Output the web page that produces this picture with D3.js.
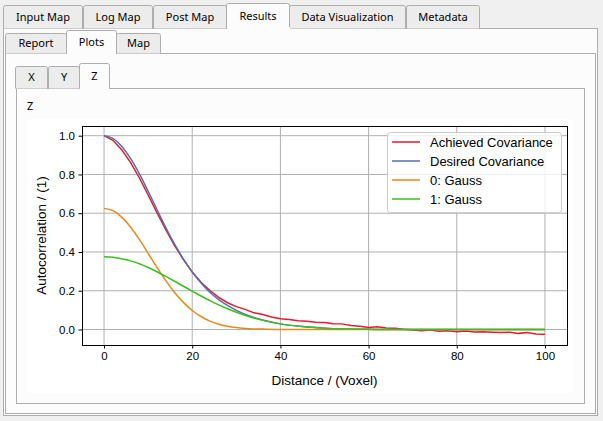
<!DOCTYPE html>
<html>
<head>
<meta charset="utf-8">
<script src="https://cdn.jsdelivr.net/npm/d3@7"></script>
<style>
    body { margin: 0; background: #f0f0f0; }
    svg { display: block; }
</style>
</head>
<body>
<div id="graph"></div>
<script>

const mainTabs = ['Input Map', 'Log Map', 'Post Map', 'Results', 'Data Visualization', 'Metadata'];
const subTabs = ['Report', 'Plots', 'Map'];
const axisTabs = ['X', 'Y', 'Z'];

const xTicks = [0, 20, 40, 60, 80, 100];
const yTicks = [0.0, 0.2, 0.4, 0.6, 0.8, 1.0];

const seriesNames = ['Achieved Covariance', 'Desired Covariance', '0: Gauss', '1: Gauss'];

// distances for the smooth model curves
const modelDistance = [0, 2, 4, 6, 8, 10, 12, 14, 16, 18, 20, 22, 24, 26, 28, 30, 33, 36, 40, 45, 50, 55, 60, 65, 70, 75, 80, 85, 90, 95, 100];
const desiredCov = [1.000, 0.986, 0.945, 0.883, 0.804, 0.713, 0.619, 0.526, 0.440, 0.363, 0.296, 0.240, 0.192, 0.154, 0.124, 0.099, 0.070, 0.049, 0.029, 0.015, 0.007, 0.003, 0.001, 0.000, 0.000, 0.000, 0.000, 0.000, 0.000, 0.000, 0.000];
const gauss0 = [0.625, 0.613, 0.580, 0.529, 0.465, 0.393, 0.321, 0.252, 0.191, 0.140, 0.098, 0.067, 0.043, 0.027, 0.017, 0.010, 0.004, 0.002, 0.000, 0.000, 0.000, 0.000, 0.000, 0.000, 0.000, 0.000, 0.000, 0.000, 0.000, 0.000, 0.000];
const gauss1 = [0.375, 0.373, 0.365, 0.354, 0.339, 0.320, 0.298, 0.274, 0.249, 0.223, 0.198, 0.173, 0.149, 0.127, 0.107, 0.089, 0.066, 0.047, 0.029, 0.015, 0.007, 0.003, 0.001, 0.000, 0.000, 0.000, 0.000, 0.000, 0.000, 0.000, 0.000];

// achieved covariance, measured every 2 voxels
const achievedDistance = [0, 2, 4, 6, 8, 10, 12, 14, 16, 18, 20, 22, 24, 26, 28, 30, 32, 34, 36, 38, 40, 42, 44, 46, 48, 50, 52, 54, 56, 58, 60, 62, 64, 66, 68, 70, 72, 74, 76, 78, 80, 82, 84, 86, 88, 90, 92, 94, 96, 98, 100];
const achievedCov = [1.000, 0.976, 0.927, 0.862, 0.783, 0.694, 0.603, 0.515, 0.433, 0.361, 0.297, 0.244, 0.201, 0.166, 0.138, 0.118, 0.104, 0.086, 0.077, 0.064, 0.056, 0.052, 0.045, 0.042, 0.037, 0.036, 0.030, 0.029, 0.021, 0.017, 0.010, 0.014, 0.008, 0.007, 0.001, -0.003, -0.006, -0.003, -0.009, -0.006, -0.011, -0.008, -0.013, -0.012, -0.014, -0.015, -0.014, -0.020, -0.016, -0.023, -0.024];

const colors = ['#e8192c', '#4f72b0', '#e68a1c', '#3cbf20'];

const W = 603, H = 421;
const border = '#adadad';
const uiFont = '"Noto Sans", sans-serif';
const plotFont = '"Liberation Sans", Arial, sans-serif';

var svg = d3.select('div#graph')
    .append('svg')
        .attr('width', W)
        .attr('height', H)
        .style('font-family', uiFont);

svg.append('rect')
    .attr('width', W).attr('height', H)
    .attr('fill', '#f0f0f0');

// ---- tab widgets ----
function drawTabs(names, edges, selected, top, selTop, bottom) {
    names.forEach((name, i) => {
        var sel = i === selected;
        var x0 = edges[i] + (sel ? -1 : 0), x1 = edges[i + 1] + (sel ? 1 : 0);
        var y0 = sel ? selTop : top;
        svg.append('path')
            .attr('d', `M${x0 + 0.5},${bottom}V${y0 + 2.5}q0,-2 2,-2H${x1 - 2.5}q2,0 2,2V${bottom}`)
            .attr('fill', sel ? '#fcfcfc' : '#ececec')
            .attr('stroke', border);
        svg.append('text')
            .attr('x', (x0 + x1) / 2)
            .attr('y', (y0 + bottom) / 2 + 4)
            .attr('text-anchor', 'middle')
            .attr('font-size', 11)
            .attr('fill', '#000')
            .text(name);
    });
}

function pane(x0, y0, x1, y1) {
    svg.append('rect')
        .attr('x', x0 + 0.5).attr('y', y0 + 0.5)
        .attr('width', x1 - x0).attr('height', y1 - y0)
        .attr('fill', '#fcfcfc')
        .attr('stroke', border);
}

pane(3, 28, 597, 415);
pane(5, 53, 595, 413);
pane(16, 88, 584, 403);

drawTabs(mainTabs, [3, 83, 153, 227, 289, 406, 480], 3, 5, 3, 28.5);
drawTabs(subTabs, [5, 67, 116, 161], 1, 33, 30, 53.5);
drawTabs(axisTabs, [15, 48, 80, 109], 2, 66, 63, 88.5);

// cover the pane line under the selected tabs
svg.append('rect').attr('x', 227).attr('y', 27).attr('width', 63).attr('height', 3).attr('fill', '#fcfcfc');
svg.append('rect').attr('x', 67).attr('y', 52).attr('width', 49).attr('height', 3).attr('fill', '#fcfcfc');
svg.append('rect').attr('x', 80).attr('y', 87).attr('width', 29).attr('height', 3).attr('fill', '#fcfcfc');

svg.append('text')
    .attr('x', 27).attr('y', 110)
    .attr('font-size', 11)
    .text('Z');

// ---- figure ----
svg.append('rect')
    .attr('x', 27).attr('y', 119)
    .attr('width', 546).attr('height', 274)
    .attr('fill', '#ffffff');

const margin = { left: 82, top: 126, right: 567, bottom: 345 };

var xScale = d3.scaleLinear()
    .domain([-5, 105])
    .range([margin.left, margin.right]);

var yScale = d3.scaleLinear()
    .domain([-0.08, 1.05])
    .range([margin.bottom, margin.top]);

var plot = svg.append('g').style('font-family', plotFont);

// grid
plot.append('g')
    .selectAll('line').data(xTicks).enter()
    .append('line')
        .attr('x1', d => xScale(d)).attr('x2', d => xScale(d))
        .attr('y1', margin.top).attr('y2', margin.bottom)
        .attr('stroke', '#b0b0b0').attr('stroke-width', 1);

plot.append('g')
    .selectAll('line').data(yTicks).enter()
    .append('line')
        .attr('x1', margin.left).attr('x2', margin.right)
        .attr('y1', d => yScale(d)).attr('y2', d => yScale(d))
        .attr('stroke', '#b0b0b0').attr('stroke-width', 1);

const clip = plot.append('defs').append('clipPath')
        .attr('id', 'clip')
    .append('rect')
        .attr('x', margin.left).attr('y', margin.top)
        .attr('width', margin.right - margin.left)
        .attr('height', margin.bottom - margin.top);

var line = d3.line()
    .x(d => xScale(d[0]))
    .y(d => yScale(d[1]));

var smooth = d3.line()
    .x(d => xScale(d[0]))
    .y(d => yScale(d[1]))
    .curve(d3.curveMonotoneX);

const series = [
    { pts: d3.zip(achievedDistance, achievedCov), gen: line },
    { pts: d3.zip(modelDistance, desiredCov), gen: smooth },
    { pts: d3.zip(modelDistance, gauss0), gen: smooth },
    { pts: d3.zip(modelDistance, gauss1), gen: smooth }
];

var lines = plot.append('g').attr('clip-path', 'url(#clip)');

lines.selectAll('path')
    .data(series).enter()
    .append('path')
        .attr('d', d => d.gen(d.pts))
        .attr('fill', 'none')
        .attr('stroke', (d, i) => colors[i])
        .attr('stroke-width', 1.5);

// axes
var xAxis = plot.append('g')
        .attr('transform', `translate(0,${margin.bottom})`)
    .call(d3.axisBottom(xScale).tickValues(xTicks).tickSize(3.5).tickPadding(3.5).tickSizeOuter(0));

var yAxis = plot.append('g')
        .attr('transform', `translate(${margin.left},0)`)
    .call(d3.axisLeft(yScale).tickValues(yTicks).tickFormat(d3.format('.1f')).tickSize(3.5).tickPadding(3.5).tickSizeOuter(0));

[xAxis, yAxis].forEach(a => {
    a.select('.domain').remove();
    a.selectAll('text').attr('font-size', 11.5).attr('fill', '#000').style('font-family', plotFont);
    a.selectAll('line').attr('stroke', '#000');
});

plot.append('rect')
    .attr('x', margin.left + 0.5).attr('y', margin.top + 0.5)
    .attr('width', margin.right - margin.left).attr('height', margin.bottom - margin.top)
    .attr('fill', 'none')
    .attr('stroke', '#000')
    .attr('stroke-width', 1);

plot.append('text')
    .attr('x', (margin.left + margin.right) / 2)
    .attr('y', 385)
    .attr('text-anchor', 'middle')
    .attr('font-size', 13.5)
    .text('Distance / (Voxel)');

plot.append('text')
    .attr('transform', `translate(46,${(margin.top + margin.bottom) / 2}) rotate(-90)`)
    .attr('text-anchor', 'middle')
    .attr('font-size', 13.5)
    .text('Autocorrelation / (1)');

// legend
var legend = plot.append('g');

legend.append('rect')
    .attr('x', 387.5).attr('y', 132.5)
    .attr('width', 174).attr('height', 80)
    .attr('rx', 3)
    .attr('fill', '#ffffff').attr('fill-opacity', 0.8)
    .attr('stroke', '#cccccc');

var entries = legend.selectAll('g.entry')
    .data(seriesNames).enter()
    .append('g')
        .attr('class', 'entry')
        .attr('transform', (d, i) => `translate(0,${142 + i * 19})`);

entries.append('line')
    .attr('x1', 392).attr('x2', 420)
    .attr('stroke', (d, i) => colors[i])
    .attr('stroke-width', 1.5);

entries.append('text')
    .attr('x', 430).attr('y', 4.5)
    .attr('font-size', 13)
    .text(d => d);

</script>
</body>
</html>
